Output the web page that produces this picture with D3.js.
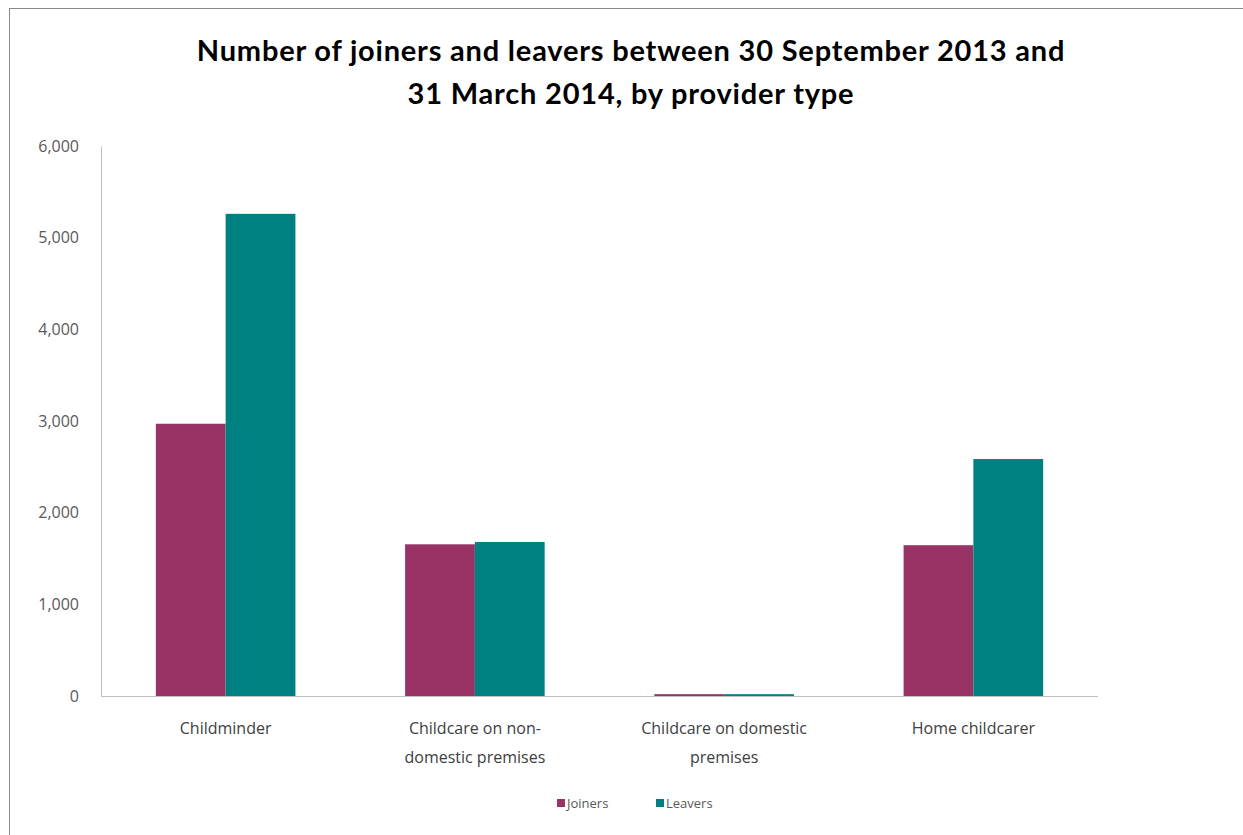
<!DOCTYPE html>
<html>
<head>
<meta charset="utf-8">
<script src="https://cdn.jsdelivr.net/npm/d3@7"></script>
<style>
  body { margin: 0; background: #fff; }
  svg { display: block; }
</style>
</head>
<body>
<div id="chart"></div>
<script>
// provider types and the two series
var categories = [
  ["Childminder"],
  ["Childcare on non-", "domestic premises"],
  ["Childcare on domestic", "premises"],
  ["Home childcarer"]
];
var seriesNames = ["Joiners", "Leavers"];
var joiners = [2970, 1655, 20, 1645];
var leavers = [5260, 1680, 20, 2585];
var yTicks = [0, 1000, 2000, 3000, 4000, 5000, 6000];
var colors = ["#993366", "#008080"];

var width = 1243, height = 835;
var margin = {top: 146, right: 145, bottom: 139, left: 101};

var svg = d3.select("#chart")
  .append("svg")
    .attr("width", width)
    .attr("height", height);

// outer frame
svg.append("rect")
  .attr("x", 9.5).attr("y", 8.5)
  .attr("width", width - 9).attr("height", height - 8)
  .attr("fill", "#fff")
  .attr("stroke", "#888")
  .attr("stroke-width", 1);

// title
var title = svg.append("text")
  .attr("text-anchor", "middle")
  .attr("font-family", "Lato, 'Open Sans', sans-serif")
  .attr("font-weight", "bold")
  .attr("font-size", 29)
  .attr("letter-spacing", 0.8)
  .attr("fill", "#000");
title.append("tspan").attr("x", 631).attr("y", 61)
  .text("Number of joiners and leavers between 30 September 2013 and");
title.append("tspan").attr("x", 631).attr("y", 104)
  .text("31 March 2014, by provider type");

var x0 = d3.scaleBand()
  .domain(d3.range(categories.length))
  .range([margin.left, width - margin.right])
  .paddingInner(0.44)
  .paddingOuter(0.22);

var x1 = d3.scaleBand()
  .domain(seriesNames)
  .range([0, x0.bandwidth()]);

var y = d3.scaleLinear()
  .domain([0, 6000])
  .range([height - margin.bottom, margin.top]);

// y axis
var yAxis = svg.append("g")
  .attr("transform", "translate(" + margin.left + ",0)")
  .call(d3.axisLeft(y).tickValues(yTicks).tickFormat(d3.format(",")).tickSize(0).tickPadding(22));
yAxis.select(".domain").attr("stroke", "#bfbfbf");
yAxis.selectAll("text")
  .attr("font-family", "'Open Sans', sans-serif")
  .attr("font-size", 16)
  .attr("fill", "#595959");

// bars
var data = categories.map(function(c, i) {
  return [{s: "Joiners", v: joiners[i]}, {s: "Leavers", v: leavers[i]}];
});

var groups = svg.selectAll("g.cat")
  .data(data)
  .enter()
  .append("g")
  .attr("class", "cat")
  .attr("transform", function(d, i) { return "translate(" + x0(i) + ",0)"; });

groups.selectAll("rect")
  .data(function(d) { return d; })
  .enter()
  .append("rect")
  .attr("x", function(d) { return x1(d.s); })
  .attr("width", x1.bandwidth())
  .attr("y", function(d) { return y(d.v); })
  .attr("height", function(d) { return y(0) - y(d.v); })
  .attr("fill", function(d, i) { return colors[i]; });

// x axis
var xAxis = svg.append("g")
  .attr("transform", "translate(0," + y(0) + ")")
  .call(d3.axisBottom(x0).tickSize(0).tickFormat(""));
xAxis.select(".domain")
  .attr("stroke", "#bfbfbf")
  .attr("d", "M" + margin.left + ",0.5H" + (width - margin.right));

// category labels (two lines)
svg.selectAll("text.cat")
  .data(categories)
  .enter()
  .append("text")
  .attr("class", "cat")
  .attr("text-anchor", "middle")
  .attr("font-family", "'Open Sans', sans-serif")
  .attr("font-size", 16)
  .attr("fill", "#404040")
  .each(function(lines, i) {
    var t = d3.select(this);
    lines.forEach(function(l, j) {
      t.append("tspan")
        .attr("x", x0(i) + x0.bandwidth() / 2)
        .attr("y", 734 + j * 29)
        .text(l);
    });
  });

// legend
var legendX = [557, 656];
var legend = svg.selectAll("g.legend")
  .data(seriesNames)
  .enter()
  .append("g")
  .attr("class", "legend")
  .attr("transform", function(d, i) { return "translate(" + legendX[i] + ",803)"; });
legend.append("rect")
  .attr("x", 0).attr("y", -4)
  .attr("width", 8).attr("height", 8)
  .attr("fill", function(d, i) { return colors[i]; });
legend.append("text")
  .attr("x", 10).attr("y", 4.5)
  .attr("font-family", "'Open Sans', sans-serif")
  .attr("font-size", 13)
  .attr("fill", "#595959")
  .text(function(d) { return d; });
</script>
</body>
</html>
